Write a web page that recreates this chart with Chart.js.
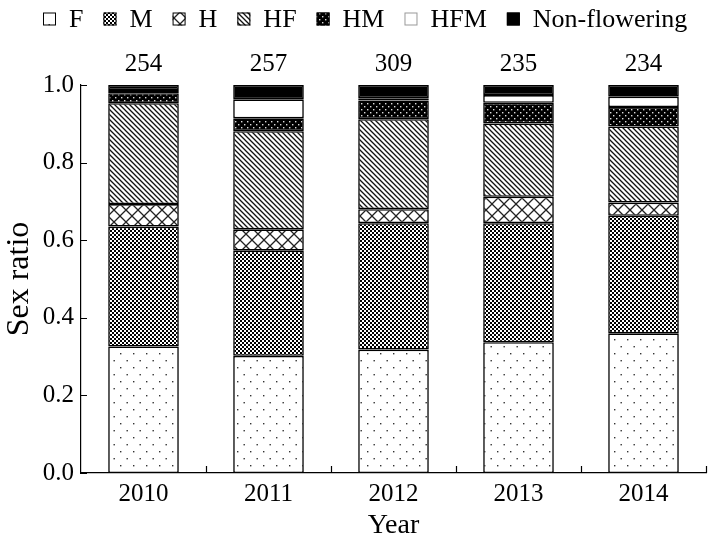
<!DOCTYPE html>
<html>
<head>
<meta charset="utf-8">
<script src="https://cdn.jsdelivr.net/npm/chart.js@4"></script>
<style>
  html, body { margin: 0; padding: 0; background: #fff; }
  #wrap { width: 709px; height: 546px; }
</style>
</head>
<body>
<div id="wrap"><canvas id="chart" width="709" height="546"></canvas></div>
<script>
// Data
const years = ['2010', '2011', '2012', '2013', '2014'];
const totals = [254, 257, 309, 235, 234];
const fVals = [0.326, 0.302, 0.318, 0.337, 0.360];
const mVals = [0.309, 0.271, 0.326, 0.307, 0.303];
const hVals = [0.058, 0.055, 0.036, 0.068, 0.034];
const hfVals = [0.260, 0.253, 0.232, 0.189, 0.196];
const hmVals = [0.026, 0.033, 0.048, 0.053, 0.050];
const hfmVals = [0.008, 0.049, 0.006, 0.020, 0.027];
const nfVals = [0.013, 0.037, 0.034, 0.026, 0.030];
const yTicks = [0, 0.2, 0.4, 0.6, 0.8, 1.0];

const FONT = '"Liberation Serif", "Times New Roman", serif';
const canvas = document.getElementById('chart');
const ctx = canvas.getContext('2d');

// Pattern helpers
function makePattern(w, h, draw) {
    const c = document.createElement('canvas');
    c.width = w;
    c.height = h;
    const g = c.getContext('2d');
    draw(g, w, h);
    return ctx.createPattern(c, 'repeat');
}

const patF = makePattern(13, 14, (g, w, h) => {
    g.fillStyle = '#fff';
    g.fillRect(0, 0, w, h);
    g.fillStyle = '#333';
    g.fillRect(3, 3, 1.4, 1.4);
    g.fillRect(9.5, 10, 1.4, 1.4);
});

const patM = makePattern(4, 4, (g, w, h) => {
    g.fillStyle = '#fff';
    g.fillRect(0, 0, w, h);
    g.fillStyle = '#000';
    g.fillRect(0, 0, 2, 2);
    g.fillRect(2, 2, 2, 2);
});

const patH = makePattern(12, 12, (g, w, h) => {
    g.fillStyle = '#fff';
    g.fillRect(0, 0, w, h);
    g.strokeStyle = '#222';
    g.lineWidth = 1.3;
    g.beginPath();
    g.moveTo(0, 0); g.lineTo(w, h);
    g.moveTo(w, 0); g.lineTo(0, h);
    g.stroke();
});

const patHF = makePattern(5, 5, (g, w, h) => {
    g.fillStyle = '#fff';
    g.fillRect(0, 0, w, h);
    g.strokeStyle = '#111';
    g.lineWidth = 1.3;
    g.beginPath();
    g.moveTo(-1, -1); g.lineTo(w + 1, h + 1);
    g.moveTo(-1, h - 1); g.lineTo(1, h + 1);
    g.moveTo(w - 1, -1); g.lineTo(w + 1, 1);
    g.stroke();
});

const patHM = makePattern(6, 6, (g, w, h) => {
    g.fillStyle = '#000';
    g.fillRect(0, 0, w, h);
    g.fillStyle = '#ddd';
    g.fillRect(1, 1, 1.4, 1.4);
    g.fillRect(4, 4, 1.4, 1.4);
});

function series(label, data, fill) {
    return {
        label,
        data,
        backgroundColor: fill,
        borderColor: '#000',
        borderWidth: 1.6,
        borderSkipped: false,
        barPercentage: 0.565,
        categoryPercentage: 1
    };
}

// Inward axis ticks + sample sizes
const tickPlugin = {
    id: 'inwardTicks',
    afterDraw(chart) {
        const { ctx, chartArea, scales } = chart;
        const x = scales.x;
        const y = scales.y;
        ctx.save();
        ctx.strokeStyle = '#000';
        ctx.lineWidth = 1.2;
        ctx.beginPath();
        yTicks.forEach(v => {
            const py = Math.round(y.getPixelForValue(v)) + 0.5;
            ctx.moveTo(chartArea.left, py);
            ctx.lineTo(chartArea.left + 6, py);
        });
        for (let i = 1; i <= years.length; i++) {
            const px = Math.round(x.getPixelForValue(i - 0.5)) + 0.5;
            ctx.moveTo(px, chartArea.bottom);
            ctx.lineTo(px, chartArea.bottom - 7);
        }
        ctx.stroke();

        ctx.fillStyle = '#000';
        ctx.font = '25px ' + FONT;
        ctx.textAlign = 'center';
        ctx.textBaseline = 'alphabetic';
        totals.forEach((t, i) => {
            ctx.fillText(String(t), x.getPixelForValue(i), 71);
        });
        ctx.restore();
    }
};

// Legend row at the top
const legendPlugin = {
    id: 'topLegend',
    afterDraw(chart) {
        const { ctx } = chart;
        ctx.save();
        ctx.font = '26px ' + FONT;
        ctx.textBaseline = 'middle';
        ctx.textAlign = 'left';
        let px = 43;
        const box = 13;
        const cy = 19;
        chart.data.datasets.forEach(ds => {
            ctx.fillStyle = ds.backgroundColor;
            ctx.fillRect(px, cy - box / 2, box, box);
            ctx.strokeStyle = ds.label === 'HFM' ? '#999' : '#000';
            ctx.lineWidth = 1;
            ctx.strokeRect(px + 0.5, cy - box / 2 + 0.5, box - 1, box - 1);
            px += box + 13;
            ctx.fillStyle = '#000';
            ctx.fillText(ds.label, px, cy + 1);
            px += ctx.measureText(ds.label).width + 20;
        });
        ctx.restore();
    }
};

new Chart(canvas, {
    type: 'bar',
    data: {
        labels: years,
        datasets: [
            series('F', fVals, patF),
            series('M', mVals, patM),
            series('H', hVals, patH),
            series('HF', hfVals, patHF),
            series('HM', hmVals, patHM),
            series('HFM', hfmVals, '#fff'),
            series('Non-flowering', nfVals, '#000')
        ]
    },
    options: {
        responsive: false,
        animation: false,
        layout: { padding: { top: 85, right: 3, left: 0, bottom: 0 } },
        plugins: {
            legend: { display: false },
            tooltip: { enabled: false }
        },
        scales: {
            x: {
                stacked: true,
                grid: { display: false, drawTicks: false },
                border: { display: true, color: '#000', width: 1.2 },
                ticks: { color: '#000', font: { family: FONT, size: 25 }, padding: 6 },
                title: {
                    display: true,
                    text: 'Year',
                    color: '#000',
                    font: { family: FONT, size: 28 },
                    padding: { top: 0, bottom: 4 }
                },
                afterFit(scale) { scale.height = 73; }
            },
            y: {
                stacked: true,
                min: 0,
                max: 1,
                grid: { display: false, drawTicks: false },
                border: { display: true, color: '#000', width: 1.2 },
                ticks: {
                    stepSize: 0.2,
                    color: '#000',
                    font: { family: FONT, size: 25 },
                    padding: 7,
                    callback: v => Number(v).toFixed(1)
                },
                title: {
                    display: true,
                    text: 'Sex ratio',
                    color: '#000',
                    font: { family: FONT, size: 32 },
                    padding: { top: 0, bottom: 2 }
                },
                afterFit(scale) { scale.width = 81; }
            }
        }
    },
    plugins: [tickPlugin, legendPlugin]
});
</script>
</body>
</html>
